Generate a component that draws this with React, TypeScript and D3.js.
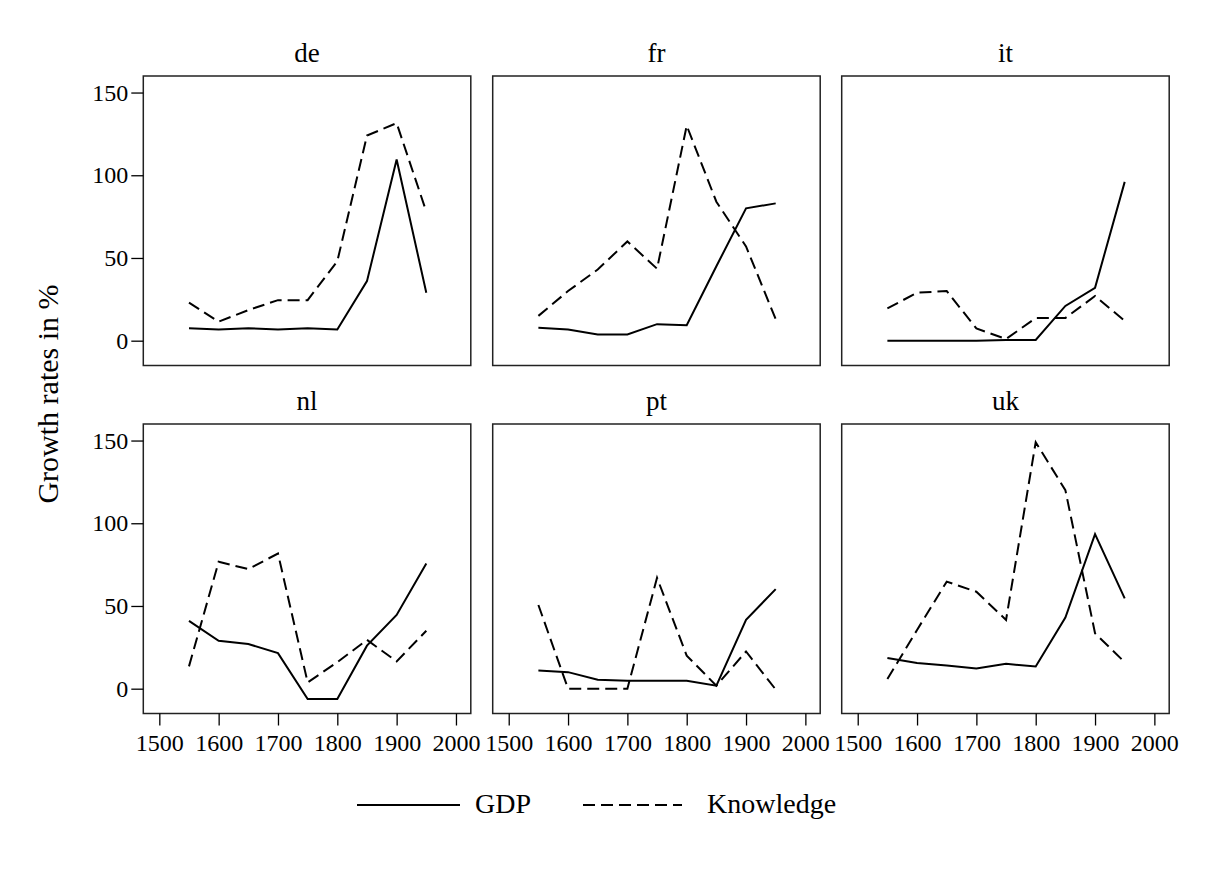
import React, { useEffect, useRef } from "react";
import * as d3 from "d3";

const years = [1550, 1600, 1650, 1700, 1750, 1800, 1850, 1900, 1950];
const countries = ["de", "fr", "it", "nl", "pt", "uk"];

const gdpDe = [7.5, 6.8, 7.5, 6.8, 7.5, 6.8, 36, 109.5, 29];
const knowDe = [23, 11.5, 18.5, 24.5, 24.5, 48, 124, 131.5, 78];
const gdpFr = [7.8, 6.8, 3.8, 3.8, 10, 9.4, 45, 80, 83];
const knowFr = [15, 30, 43, 60, 43.5, 130, 84, 57, 13];
const gdpIt = [0, 0, 0, 0, 0.4, 0.4, 21, 32, 96];
const knowIt = [19.5, 29, 30, 7.4, 1, 13.7, 13.7, 27, 12];
const gdpNl = [41, 29, 27, 21.5, -6.2, -6.2, 26, 44.6, 75.7];
const knowNl = [13.5, 76.7, 72.3, 81.7, 3.8, 16, 29.5, 16.5, 35];
const gdpPt = [11, 10, 5.4, 4.8, 4.8, 4.8, 1.8, 41.6, 60.2];
const knowPt = [50.6, 0, 0, 0, 67, 20, 1.8, 22.5, -0.5];
const gdpUk = [18.5, 15.5, 14, 12.2, 15, 13.4, 43, 93.4, 54.6];
const knowUk = [5.8, 35.5, 64.7, 58.6, 41.6, 149, 120, 33.5, 16];

const gdpSeries = [gdpDe, gdpFr, gdpIt, gdpNl, gdpPt, gdpUk];
const knowSeries = [knowDe, knowFr, knowIt, knowNl, knowPt, knowUk];

const xTicks = [1500, 1600, 1700, 1800, 1900, 2000];
const yTicks = [0, 50, 100, 150];
const legendLabels = ["GDP", "Knowledge"];

export default function App() {
  const ref = useRef(null);

  useEffect(() => {
    const root = d3.select(ref.current);
    root.selectAll("*").remove();
    const width = 1213;
    const height = 876;
    const font = "'Liberation Serif', 'Times New Roman', serif";
    const dash = "12,6";

    const svg = root
      .append("svg")
      .attr("width", width)
      .attr("height", height)
      .style("position", "absolute")
      .style("left", 0)
      .style("top", 0)
      .style("background", "#fff");

    const colX = [143.3, 492.7, 841.7];
    const rowY = [76, 424];
    const pw = 327.5;
    const ph = 289.5;

    const x = d3.scaleLinear().domain([1473, 2025]).range([0, pw]);
    const y = d3.scaleLinear().domain([-15, 160]).range([ph, 0]);

    const line = d3
      .line<number>()
      .x((d, i) => x(years[i]))
      .y((d) => y(d));

    countries.forEach((c, k) => {
      const col = k % 3;
      const row = Math.floor(k / 3);
      const g = svg
        .append("g")
        .attr("transform", `translate(${colX[col]},${rowY[row]})`);

      g.append("rect")
        .attr("width", pw)
        .attr("height", ph)
        .attr("fill", "none")
        .attr("stroke", "#222")
        .attr("stroke-width", 1.5);

      g.append("text")
        .attr("x", pw / 2)
        .attr("y", -14)
        .attr("text-anchor", "middle")
        .style("font-family", font)
        .style("font-size", "27px")
        .text(c);

      if (col === 0) {
        const ya = g.append("g").call(
          d3.axisLeft(y).tickValues(yTicks).tickSize(12).tickPadding(3)
        );
        ya.select(".domain").remove();
        ya.selectAll("line").attr("stroke", "#000").attr("stroke-width", 1.3);
        ya.selectAll("text")
          .style("font-family", font)
          .style("font-size", "24px")
          .attr("fill", "#000");
      }
      if (row === 1) {
        const xa = g
          .append("g")
          .attr("transform", `translate(0,${ph})`)
          .call(
            d3.axisBottom(x).tickValues(xTicks).tickFormat(d3.format("d")).tickSize(12).tickPadding(8)
          );
        xa.select(".domain").remove();
        xa.selectAll("line").attr("stroke", "#000").attr("stroke-width", 1.3);
        xa.selectAll("text")
          .style("font-family", font)
          .style("font-size", "24px")
          .attr("fill", "#000");
      }

      g.append("path")
        .attr("d", line(gdpSeries[k]))
        .attr("fill", "none")
        .attr("stroke", "#000")
        .attr("stroke-width", 2);

      g.append("path")
        .attr("d", line(knowSeries[k]))
        .attr("fill", "none")
        .attr("stroke", "#000")
        .attr("stroke-width", 2)
        .attr("stroke-dasharray", dash);
    });

    svg
      .append("text")
      .attr("transform", `translate(58,394) rotate(-90)`)
      .attr("text-anchor", "middle")
      .style("font-family", font)
      .style("font-size", "30px")
      .text("Growth rates in %");

    const leg = svg.append("g");
    const items = [
      { x1: 357, x2: 460, tx: 475, dashed: false },
      { x1: 583, x2: 682, tx: 707, dashed: true },
    ];
    items.forEach((it, i) => {
      leg
        .append("line")
        .attr("x1", it.x1)
        .attr("x2", it.x2)
        .attr("y1", 805)
        .attr("y2", 805)
        .attr("stroke", "#000")
        .attr("stroke-width", 2)
        .attr("stroke-dasharray", it.dashed ? dash : null);
      leg
        .append("text")
        .attr("x", it.tx)
        .attr("y", 813)
        .style("font-family", font)
        .style("font-size", "28px")
        .text(legendLabels[i]);
    });
  }, []);

  return <div ref={ref}></div>;
}
